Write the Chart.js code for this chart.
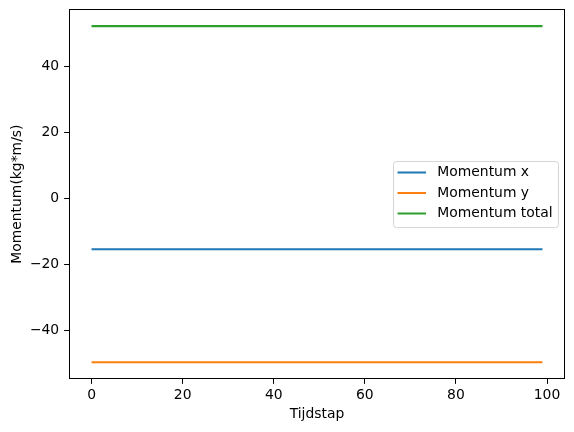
<!DOCTYPE html>
<html>
<head>
<meta charset="utf-8">
<script src="https://cdn.jsdelivr.net/npm/chart.js@4"></script>
<style>
  html, body { margin: 0; padding: 0; background: #fff; }
  #wrap { width: 574px; height: 432px; }
</style>
</head>
<body>
<div id="wrap"><canvas id="momentumChart" width="574" height="432"></canvas></div>
<script>
// Tijdstappen (begin en eind van de simulatie)
const tijdstap = [0, 99];
// Momentum per tijdstap (constant)
const momentumX = [-15.4, -15.4];
const momentumY = [-49.6, -49.6];
const momentumTotal = [52.2, 52.2];

const seriesLabels = ["Momentum x", "Momentum y", "Momentum total"];
const seriesColors = ["#1f77b4", "#ff7f0e", "#2ca02c"];
const xTicks = [0, 20, 40, 60, 80, 100];
const yTicks = [-40, -20, 0, 20, 40];

const FONT = "DejaVu Sans";
const FSIZE = 13.9;

function toPoints(xs, ys) {
  return xs.map((x, i) => ({ x: x, y: ys[i] }));
}

// geen extra padding door de tick labels
function noScalePadding(scale) {
  scale.paddingTop = 0;
  scale.paddingBottom = 0;
  scale.paddingLeft = 0;
  scale.paddingRight = 0;
}

// Kader rond het plotgebied + legenda in matplotlib-stijl
const frameAndLegend = {
  id: "frameAndLegend",
  afterDraw(chart) {
    const ctx = chart.ctx;
    const a = chart.chartArea;
    ctx.save();
    ctx.strokeStyle = "#000";
    ctx.lineWidth = 1;
    ctx.strokeRect(Math.round(a.left) + 0.5, Math.round(a.top) + 0.5,
      Math.round(a.right - a.left) - 1, Math.round(a.bottom - a.top) - 1);

    // legenda
    const bx = 393, by = 161, bw = 165, bh = 66;
    ctx.fillStyle = "rgba(255,255,255,0.8)";
    ctx.strokeStyle = "rgba(204,204,204,0.8)";
    ctx.lineWidth = 1;
    ctx.beginPath();
    ctx.roundRect(bx + 0.5, by + 0.5, bw, bh, 3);
    ctx.fill();
    ctx.stroke();

    ctx.font = FSIZE + "px '" + FONT + "'";
    ctx.textBaseline = "middle";
    ctx.textAlign = "left";
    seriesLabels.forEach((label, i) => {
      const ry = 172.5 + i * 20.5;
      ctx.strokeStyle = seriesColors[i];
      ctx.lineWidth = 2;
      ctx.beginPath();
      ctx.moveTo(397.5, ry);
      ctx.lineTo(426, ry);
      ctx.stroke();
      ctx.fillStyle = "#000";
      ctx.fillText(label, 437.3, ry);
    });
    ctx.restore();
  }
};

const data = {
  datasets: [momentumX, momentumY, momentumTotal].map((vals, i) => ({
    label: seriesLabels[i],
    data: toPoints(tijdstap, vals),
    borderColor: seriesColors[i],
    backgroundColor: seriesColors[i],
    borderWidth: 2.08,
    pointRadius: 0,
    tension: 0,
    fill: false,
  })),
};

new Chart(document.getElementById("momentumChart").getContext("2d"), {
  type: "line",
  data: data,
  options: {
    responsive: false,
    animation: false,
    layout: { padding: { top: 9.3, right: 9, left: 0, bottom: 0 } },
    plugins: {
      legend: { display: false },
      tooltip: { enabled: false },
    },
    scales: {
      x: {
        type: "linear",
        min: -4.95,
        max: 103.95,
        afterBuildTicks: (scale) => { scale.ticks = xTicks.map(v => ({ value: v })); },
        afterFit: (scale) => { scale.height = 53; noScalePadding(scale); },
        grid: { drawOnChartArea: false, drawTicks: true, tickLength: 4.9, color: "#000", lineWidth: 1 },
        border: { display: false },
        ticks: { color: "#000", font: { family: FONT, size: FSIZE }, padding: 3, maxRotation: 0 },
        title: {
          display: true, text: "Tijdstap", color: "#000",
          font: { family: FONT, size: FSIZE }, padding: { top: 0, bottom: 9.6 },
        },
      },
      y: {
        type: "linear",
        min: -54.69,
        max: 57.29,
        afterBuildTicks: (scale) => { scale.ticks = yTicks.map(v => ({ value: v })); },
        afterFit: (scale) => { scale.width = 69; noScalePadding(scale); },
        grid: { drawOnChartArea: false, drawTicks: true, tickLength: 4.9, color: "#000", lineWidth: 1 },
        border: { display: false },
        ticks: {
          color: "#000", font: { family: FONT, size: FSIZE }, padding: 4.9,
          callback: (v) => (v < 0 ? "\u2212" + Math.abs(v) : String(v)),
        },
        title: {
          display: true, text: "Momentum(kg*m/s)", color: "#000",
          font: { family: FONT, size: FSIZE }, padding: { top: 8.7, bottom: 0 },
        },
      },
    },
  },
  plugins: [frameAndLegend],
});
</script>
</body>
</html>
